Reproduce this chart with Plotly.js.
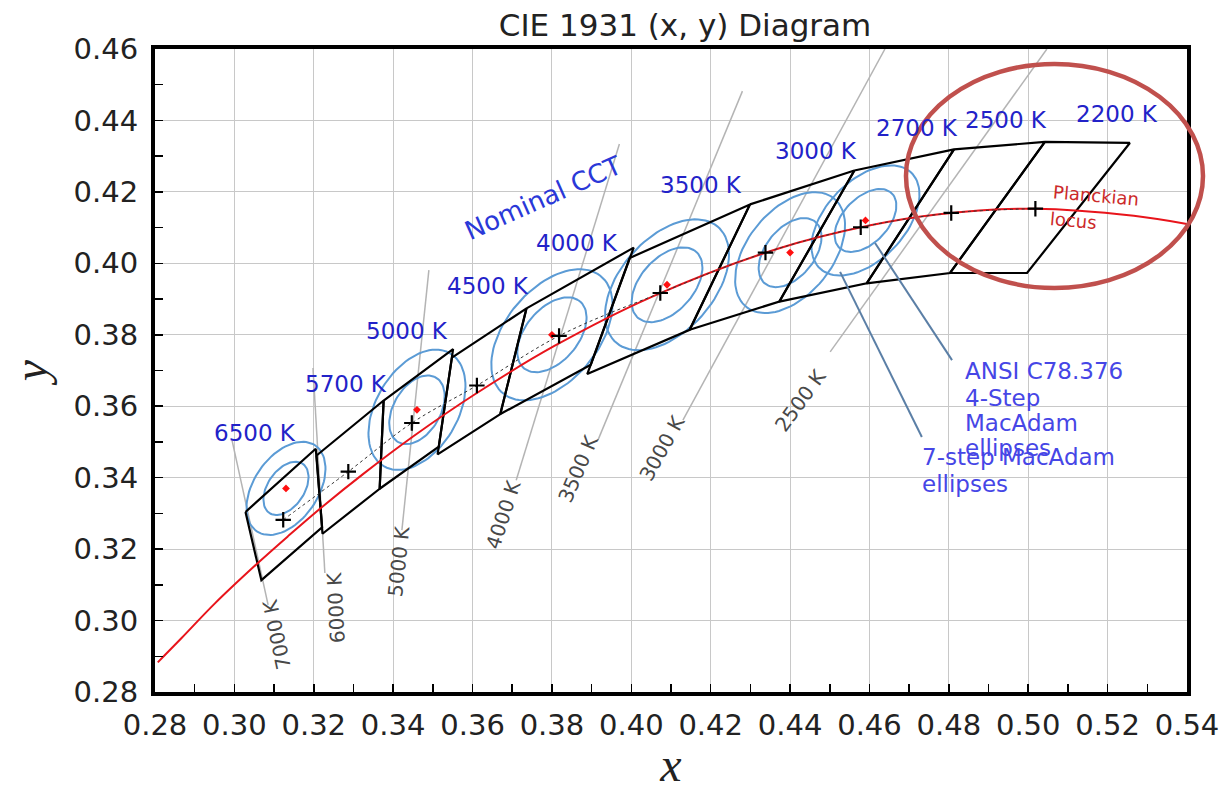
<!DOCTYPE html>
<html><head><meta charset="utf-8">
<script src="https://cdn.plot.ly/plotly-3.0.1.min.js"></script>
<style>html,body{margin:0;padding:0;background:#fff}</style>
</head><body><div id="chart" style="width:1222px;height:791px"></div>
<script>
// ---------- DATA ----------
// Planckian locus (x, y)
const locusX = [0.2807, 0.2867, 0.2951, 0.3064, 0.3135, 0.3221, 0.3324, 0.3451, 0.3608, 0.3805, 0.4053, 0.4369, 0.4599, 0.4770, 0.5018, 0.5266, 0.5400];
const locusY = [0.2883, 0.2951, 0.3048, 0.3166, 0.3236, 0.3318, 0.3410, 0.3516, 0.3635, 0.3768, 0.3907, 0.4041, 0.4106, 0.4137, 0.4153, 0.4133, 0.4110];

// Nominal CCT quadrangles (ANSI C78.377)
const nominalCCT = ['6500 K','5700 K','5000 K','4500 K','4000 K','3500 K','3000 K','2700 K','2500 K','2200 K'];
const centerX = [0.3123, 0.3287, 0.3447, 0.3611, 0.3818, 0.4073, 0.4338, 0.4578, 0.4806, 0.5018];
const centerY = [0.3282, 0.3417, 0.3553, 0.3658, 0.3797, 0.3917, 0.4030, 0.4101, 0.4141, 0.4153];
const quadTLx = [0.3028, 0.3207, 0.3376, 0.3548, 0.3736, 0.3996, 0.4299, 0.4562, 0.4813, 0.5042];
const quadTLy = [0.3304, 0.3462, 0.3616, 0.3736, 0.3874, 0.4015, 0.4165, 0.4260, 0.4319, 0.4340];
const quadTRx = [0.3205, 0.3376, 0.3551, 0.3736, 0.4006, 0.4299, 0.4562, 0.4813, 0.5042, 0.5256];
const quadTRy = [0.3481, 0.3616, 0.3760, 0.3874, 0.4044, 0.4165, 0.4260, 0.4319, 0.4340, 0.4337];
const quadBRx = [0.3221, 0.3366, 0.3515, 0.3670, 0.3898, 0.4147, 0.4373, 0.4593, 0.4803, 0.4997];
const quadBRy = [0.3261, 0.3369, 0.3487, 0.3578, 0.3716, 0.3814, 0.3893, 0.3944, 0.3973, 0.3973];
const quadBLx = [0.3068, 0.3222, 0.3366, 0.3512, 0.3670, 0.3889, 0.4147, 0.4373, 0.4593, 0.4803];
const quadBLy = [0.3113, 0.3243, 0.3369, 0.3465, 0.3578, 0.3690, 0.3814, 0.3893, 0.3944, 0.3973];

// ANSI C78.376 MacAdam ellipses (1-step semi-axes as drawn, angle in degrees)
const ellipseCCT = [6500, 5000, 4000, 3500, 3000, 2700];
const ellipseCx = [0.313, 0.346, 0.380, 0.409, 0.440, 0.459];
const ellipseCy = [0.337, 0.359, 0.380, 0.394, 0.403, 0.412];
const ellipseA = [0.00202, 0.00256, 0.00294, 0.00296, 0.00269, 0.00253];
const ellipseB = [0.00119, 0.00151, 0.00173, 0.00175, 0.00159, 0.00149];
const ellipseTheta = [61.5, 64.9, 56.0, 54.6, 57.1, 52.4];
const ellipseSteps = [4, 7];

// Isotemperature lines
const isoLabel = ['7000 K','6000 K','5000 K','4000 K','3500 K','3000 K','2500 K'];
const isoTopX = [0.2994, 0.3198, 0.3490, 0.3970, 0.4280, 0.4639, 0.5047];
const isoTopY = [0.3505, 0.3707, 0.3981, 0.4334, 0.4482, 0.4600, 0.4600];
const isoBotX = [0.3085, 0.3228, 0.3422, 0.3710, 0.3916, 0.4130, 0.4501];
const isoBotY = [0.3044, 0.3133, 0.3253, 0.3393, 0.3505, 0.3561, 0.3752];

// ---------- LAYOUT-ONLY POSITIONS ----------
const cctLabelPos = [[0.3052,0.3525],[0.3281,0.3662],[0.3435,0.3811],[0.3639,0.3937],[0.3863,0.4057],
                     [0.4176,0.4219],[0.4465,0.4314],[0.4720,0.4379],[0.4944,0.4401],[0.5224,0.4418]];
const isoLabelPos = [[0.3107,0.2962,-102],[0.3256,0.3035,-93],[0.3413,0.3165,-84],[0.3677,0.3296,-72],
                     [0.3866,0.3424,-67],[0.4077,0.3484,-61],[0.4425,0.3615,-54]];

// ---------- TRACES ----------
const traces = [];

// isotherms
{
  const x = [], y = [];
  for (let i = 0; i < isoLabel.length; i++) { x.push(isoTopX[i], isoBotX[i], null); y.push(isoTopY[i], isoBotY[i], null); }
  traces.push({x, y, mode:'lines', line:{color:'#b4b4b4', width:1.5}, hoverinfo:'skip'});
}

// ellipses
const d2r = Math.PI/180;
ellipseSteps.forEach(step => {
  const x = [], y = [];
  for (let i = 0; i < ellipseCCT.length; i++) {
    const a = ellipseA[i]*step, b = ellipseB[i]*step, th = ellipseTheta[i]*d2r;
    for (let t = 0; t <= 360; t += 4) {
      const ct = Math.cos(t*d2r), st = Math.sin(t*d2r);
      x.push(ellipseCx[i] + a*Math.cos(th)*ct - b*Math.sin(th)*st);
      y.push(ellipseCy[i] + a*Math.sin(th)*ct + b*Math.cos(th)*st);
    }
    x.push(null); y.push(null);
  }
  traces.push({x, y, mode:'lines', line:{color:'#5b9bd5', width:2}, hoverinfo:'skip'});
});

// quadrangles
{
  const x = [], y = [];
  for (let i = 0; i < nominalCCT.length; i++) {
    x.push(quadTLx[i], quadTRx[i], quadBRx[i], quadBLx[i], quadTLx[i], null);
    y.push(quadTLy[i], quadTRy[i], quadBRy[i], quadBLy[i], quadTLy[i], null);
  }
  traces.push({x, y, mode:'lines', line:{color:'#000', width:2.2}, hoverinfo:'skip'});
}

// Planckian locus
traces.push({x: locusX, y: locusY, mode:'lines', line:{color:'#e8141b', width:2, shape:'spline'}});

// dotted line through nominal centres
traces.push({x: centerX, y: centerY, mode:'lines', line:{color:'#333', width:1, dash:'dot', shape:'spline'}});

// red ellipse centres
traces.push({x: ellipseCx, y: ellipseCy, mode:'markers', marker:{symbol:'diamond', size:6, color:'#ff1010'}});

// black crosses
traces.push({x: centerX, y: centerY, mode:'markers', marker:{symbol:'cross-thin', size:11, line:{color:'#000', width:2.2}}});

// ---------- ANNOTATIONS ----------
const ann = [];
const blue = '#2222c8';
nominalCCT.forEach((t, i) => ann.push({x: cctLabelPos[i][0], y: cctLabelPos[i][1], xref:'x', yref:'y', text: t, showarrow:false,
  font:{family:'DejaVu Sans', size:23, color:blue}}));
isoLabel.forEach((t, i) => ann.push({x: isoLabelPos[i][0], y: isoLabelPos[i][1], xref:'x', yref:'y', text: t, showarrow:false,
  textangle: isoLabelPos[i][2], font:{family:'DejaVu Sans', size:20, color:'#484848'}}));
ann.push({x:0.3778, y:0.4183, xref:'x', yref:'y', text:'Nominal CCT', showarrow:false, textangle:-24,
  font:{family:'DejaVu Sans', size:26, color:'#2a38d8'}});
ann.push({x:0.5055, y:0.4189, xref:'x', yref:'y', xanchor:'left', text:'Planckian', showarrow:false, textangle:5,
  font:{family:'DejaVu Sans', size:18, color:'#cc2a2a'}});
ann.push({x:0.5047, y:0.4119, xref:'x', yref:'y', xanchor:'left', text:'locus', showarrow:false, textangle:5,
  font:{family:'DejaVu Sans', size:18, color:'#cc2a2a'}});
const ansiBlue = '#4646e6';
[['ANSI C78.376',0.4836,0.3699],['4-Step',0.4836,0.3623],['MacAdam',0.4836,0.3553],['ellipses',0.4836,0.3483],
 ['7-step MacAdam',0.4727,0.3458],['ellipses',0.4727,0.3382]].forEach(r => ann.push({x:r[1], y:r[2], xref:'x', yref:'y',
  xanchor:'left', text:r[0], showarrow:false, font:{family:'DejaVu Sans', size:23, color:ansiBlue}}));

// ---------- SHAPES ----------
const shapes = [
  {type:'line', xref:'x', yref:'y', x0:0.4526, y0:0.3976, x1:0.4732, y1:0.3514, line:{color:'#5b7fa6', width:2}},
  {type:'line', xref:'x', yref:'y', x0:0.4614, y0:0.4057, x1:0.4808, y1:0.3729, line:{color:'#5b7fa6', width:2}},
  {type:'circle', xref:'paper', yref:'paper', x0:0.7277, x1:1.0155, y0:0.6283, y1:0.9767, line:{color:'#c0504d', width:4.5}, layer:'above'}
];

const axisCommon = {
  showgrid:true, gridcolor:'#c8c8c8', gridwidth:1, zeroline:false,
  showline:true, linecolor:'#000', linewidth:4, mirror:true,
  ticks:'inside', ticklen:8, tickwidth:1.5, tickcolor:'#000', dtick:0.02, tickformat:'.2f',
  tickfont:{family:'DejaVu Sans', size:29, color:'#222'},
  minor:{dtick:0.01, ticks:'inside', ticklen:8, tickwidth:1.5, tickcolor:'#000', showgrid:false}
};

const layout = {
  width:1222, height:791, margin:{l:155, r:35, t:49, b:99},
  paper_bgcolor:'#fff', plot_bgcolor:'#fff', showlegend:false,
  title:{text:'CIE 1931 (x, y) Diagram', x:0.5136, xref:'paper', y:0.968, yref:'container', yanchor:'middle',
    font:{family:'DejaVu Sans', size:31, color:'#222'}},
  xaxis:Object.assign({}, axisCommon, {range:[0.28,0.54], ticklabelstandoff:4,
    title:{text:'<i>x</i>', font:{family:'Liberation Serif', size:48, color:'#222'}, standoff:10}}),
  yaxis:Object.assign({}, axisCommon, {range:[0.28,0.46], ticklabelstandoff:7,
    title:{text:'<i>y</i>', font:{family:'Liberation Serif', size:48, color:'#222'}, standoff:12}}),
  annotations: ann, shapes: shapes
};

Plotly.newPlot('chart', traces, layout, {displayModeBar:false, staticPlot:true});
</script></body></html>
